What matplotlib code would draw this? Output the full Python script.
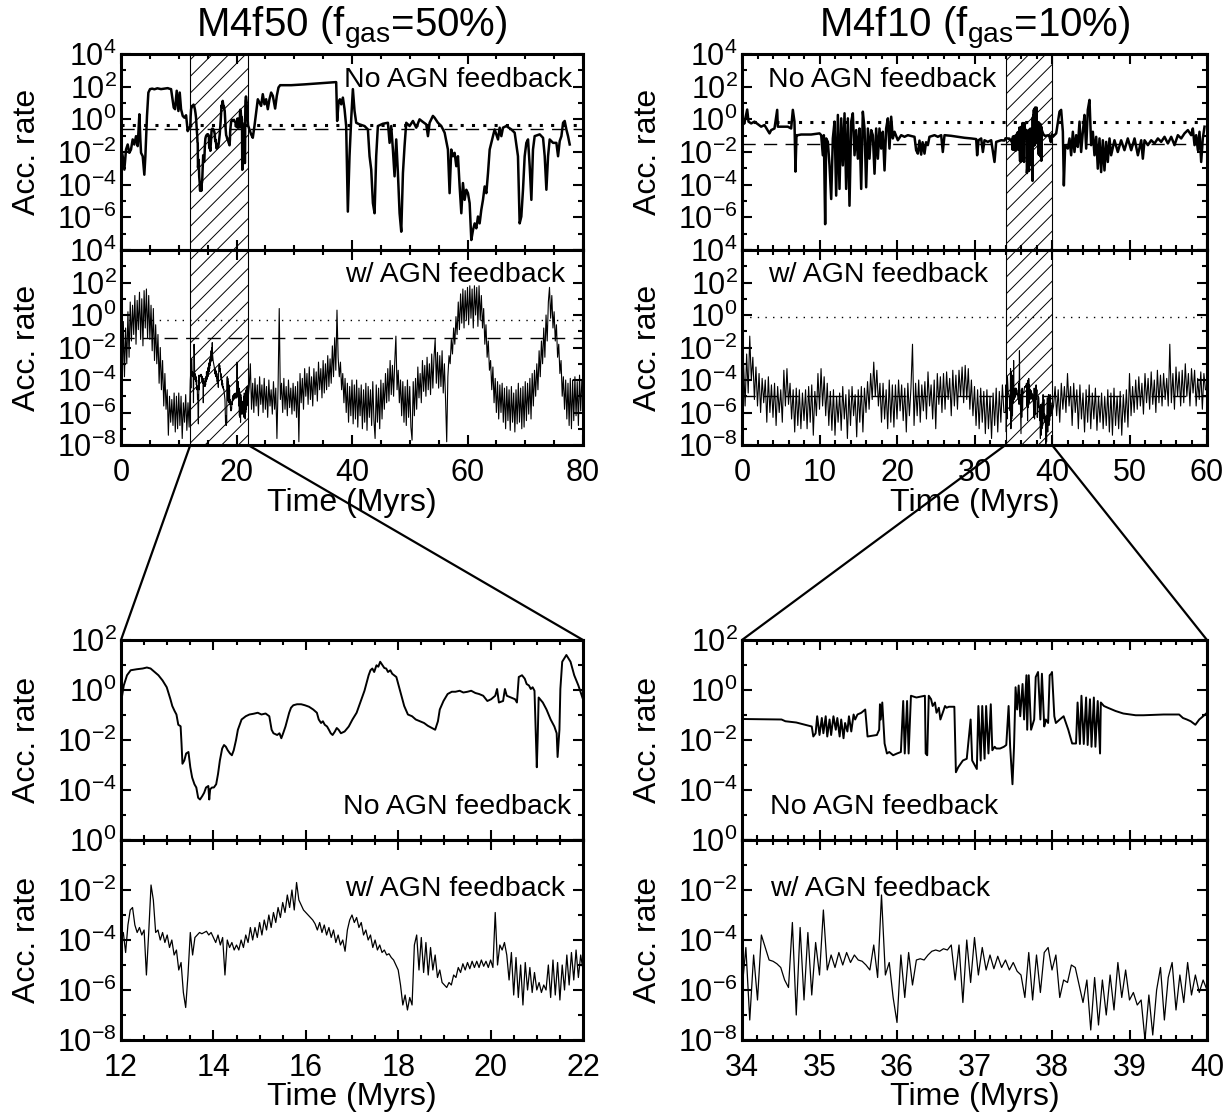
import numpy as np
import matplotlib
matplotlib.use("Agg")
import matplotlib.pyplot as plt
from matplotlib.patches import ConnectionPatch
from matplotlib.ticker import FixedLocator, FuncFormatter, MultipleLocator, NullFormatter

plt.rcParams["font.family"] = ["Liberation Sans", "DejaVu Sans"]
plt.rcParams["mathtext.fontset"] = "custom"
plt.rcParams["mathtext.rm"] = "Liberation Sans"
plt.rcParams["mathtext.it"] = "Liberation Sans:italic"
plt.rcParams["mathtext.bf"] = "Liberation Sans:bold"
plt.rcParams["hatch.linewidth"] = 0.7

# ---------------------------------------------------------------------------
# data: (time [Myr], log10 accretion rate)
# ---------------------------------------------------------------------------

# M4f50, no AGN feedback
f50_noagn = [
    (0.0, -1.64), (0.29, -2.26), (0.58, -3.08), (0.87, -1.85), (1.16, -1.54), (1.44, -2.05),
    (1.73, -1.85), (2.02, -1.23), (2.31, -1.54), (2.6, -1.03), (2.89, -1.64), (3.18, 0.31),
    (3.35, -1.23), (3.47, -2.05), (3.76, -2.26), (4.04, -3.39), (4.22, -2.26), (4.5, 0.2),
    (4.74, 1.64), (5.03, 1.85), (5.4, 1.88), (5.78, 1.84), (6.3, 1.9), (6.93, 1.85),
    (7.5, 1.88), (8.09, 1.91), (8.4, 1.87), (8.67, 1.85), (9.13, 0.72), (9.36, 0.62),
    (9.65, 1.75), (9.94, 0.51), (10.17, 1.64), (10.4, 0.62), (10.69, 0.21), (10.98, 0.1),
    (11.27, 0.25), (11.55, -0.72), (11.79, -0.51),
    # 12-22 Myr, from the zoomed panel
    (12.00, -0.50), (12.06, 0.18), (12.13, 0.59), (12.21, 0.79), (12.34, 0.83), (12.47, 0.86),
    (12.56, 0.90), (12.64, 0.86), (12.73, 0.72), (12.81, 0.59), (12.90, 0.38), (12.99, 0.11),
    (13.07, -0.37), (13.11, -0.64), (13.16, -0.84), (13.20, -0.98), (13.24, -1.39), (13.29, -1.45),
    (13.31, -2.14), (13.33, -2.95), (13.37, -2.82), (13.41, -2.54), (13.46, -2.48), (13.50, -3.09),
    (13.54, -3.50), (13.59, -3.77), (13.63, -3.90), (13.67, -4.31), (13.71, -4.38), (13.76, -4.24),
    (13.80, -4.11), (13.84, -3.90), (13.89, -3.84), (13.91, -4.38), (13.93, -3.97), (13.97, -3.90),
    (14.01, -3.90), (14.06, -3.77), (14.10, -3.36), (14.14, -2.82), (14.19, -2.34), (14.23, -2.20),
    (14.27, -2.27), (14.31, -2.41), (14.36, -2.54), (14.40, -2.61), (14.44, -2.41), (14.49, -2.00),
    (14.53, -1.59), (14.61, -1.18), (14.70, -1.05), (14.78, -0.98), (14.87, -0.95), (14.96, -0.91),
    (15.04, -0.98), (15.13, -0.94), (15.21, -1.05), (15.26, -1.59), (15.30, -1.73), (15.38, -1.80),
    (15.43, -1.73), (15.47, -1.93), (15.51, -1.73), (15.56, -1.46), (15.60, -1.18), (15.64, -0.91),
    (15.68, -0.71), (15.73, -0.61), (15.81, -0.57), (15.90, -0.57), (15.98, -0.61), (16.07, -0.67),
    (16.16, -0.78), (16.24, -0.91), (16.28, -1.18), (16.33, -1.32), (16.37, -1.25), (16.41, -1.39),
    (16.46, -1.46), (16.50, -1.59), (16.54, -1.73), (16.58, -1.80), (16.63, -1.66), (16.67, -1.52),
    (16.71, -1.59), (16.76, -1.73), (16.84, -1.66), (16.93, -1.46), (17.01, -1.18), (17.10, -0.91),
    (17.18, -0.50), (17.27, -0.03), (17.36, 0.59), (17.40, 0.79), (17.44, 0.86), (17.48, 0.72),
    (17.53, 0.99), (17.57, 0.93), (17.61, 1.13), (17.66, 0.99), (17.70, 0.88), (17.74, 0.86),
    (17.78, 0.72), (17.83, 0.79), (17.87, 0.65), (17.91, 0.59), (17.96, 0.52), (18.04, -0.03),
    (18.13, -0.64), (18.21, -0.98), (18.30, -1.05), (18.38, -1.18), (18.47, -1.25), (18.56, -1.32),
    (18.64, -1.43), (18.73, -1.52), (18.80, -1.59), (18.86, -1.25), (18.90, -0.78), (18.98, -0.44),
    (19.07, -0.16), (19.16, -0.07), (19.24, -0.07), (19.33, -0.03), (19.41, -0.10), (19.50, -0.07),
    (19.58, -0.03), (19.67, -0.12), (19.75, -0.16), (19.84, -0.23), (19.93, -0.44), (20.01, -0.37),
    (20.10, -0.23), (20.14, 0.04), (20.18, -0.50), (20.27, -0.44), (20.31, 0.04), (20.35, -0.23),
    (20.44, -0.30), (20.53, -0.37), (20.57, -0.50), (20.61, 0.52), (20.68, 0.59), (20.74, 0.45),
    (20.78, 0.24), (20.83, 0.18), (20.87, 0.04), (20.91, 0.11), (20.95, -0.03), (21.00, -3.09),
    (21.02, -1.86), (21.04, -0.30), (21.13, -0.50), (21.21, -0.78), (21.30, -1.18), (21.38, -1.46),
    (21.43, -1.73), (21.45, -2.68), (21.49, -1.59), (21.51, 0.04), (21.55, 1.13), (21.64, 1.40),
    (21.73, 1.13), (21.81, 0.59), (21.90, 0.18), (22.00, -0.37),
    # after the zoom window
    (22.24, -0.62), (22.53, -0.92), (22.82, -1.13), (23.11, -0.41), (23.4, 0.41), (23.69, 1.23),
    (23.97, 1.03), (24.26, 0.82), (24.55, 1.54), (24.84, 0.92), (25.13, 1.23), (25.42, 0.62),
    (25.71, 1.23), (26.0, 1.64), (26.29, 1.44), (26.69, 0.66), (26.98, 1.44), (27.27, 1.95),
    (27.56, 2.09), (29.46, 2.09), (31.77, 2.14), (34.08, 2.2), (36.4, 2.26), (37.26, 2.28),
    (37.43, -0.1), (37.67, 1.03), (37.9, 1.23), (38.13, 0.92), (38.42, 1.33), (38.71, 0.62),
    (38.99, -0.41), (39.28, -5.65), (39.57, -2.26), (39.86, 0.0), (40.15, 1.85), (40.44, 0.51),
    (40.73, -0.21), (41.31, -0.31), (42.17, -0.41), (42.75, -0.62), (43.04, -2.26), (43.33, -3.08),
    (43.62, -5.13), (43.91, -5.75), (44.19, -2.26), (44.48, -0.41), (45.35, -0.27), (46.22, -0.21),
    (46.51, -1.44), (46.79, -0.41), (47.08, -1.85), (47.37, -3.49), (47.66, -1.23), (47.95, -3.29),
    (48.24, -5.75), (48.53, -6.88), (48.82, -3.29), (49.1, -1.64), (49.39, -0.21), (49.97, -0.41),
    (50.55, -0.1), (51.13, -0.51), (51.7, 0.0), (52.28, -0.16), (52.86, -0.31), (53.15, -1.03),
    (53.44, -0.21), (54.01, 0.21), (54.3, 0.1), (54.88, -0.21), (55.46, -0.41), (56.04, -0.82),
    (56.61, -1.85), (56.9, -4.52), (57.19, -1.85), (57.48, -2.26), (57.77, -2.05), (58.06, -2.87),
    (58.35, -2.26), (58.64, -4.11), (58.93, -5.75), (59.21, -3.9), (59.5, -4.93), (59.79, -4.31),
    (60.08, -4.52), (60.37, -5.13), (60.66, -7.39), (60.95, -6.78), (61.24, -6.37), (61.53, -6.67),
    (61.81, -5.95), (62.1, -6.37), (62.39, -5.54), (62.68, -4.93), (62.97, -4.11), (63.26, -4.52),
    (63.55, -3.29), (63.84, -1.85), (64.12, -1.44), (64.41, -1.03), (64.7, -0.62), (65.28, -1.23),
    (65.57, -0.51), (65.86, -1.03), (66.15, -0.51), (66.72, -0.41), (67.59, -0.62), (68.17, -0.82),
    (68.74, -2.26), (69.03, -6.37), (69.32, -5.95), (69.61, -4.31), (69.9, -2.26), (70.19, -1.44),
    (70.48, -1.23), (70.77, -2.87), (71.06, -4.93), (71.34, -1.85), (71.63, -1.03), (72.5, -0.92),
    (73.08, -1.13), (73.37, -2.26), (73.66, -4.31), (73.95, -2.26), (74.23, -1.23), (74.81, -1.44),
    (75.39, -1.44), (75.68, -2.26), (75.97, -1.33), (76.26, -1.03), (76.55, -0.21), (76.83, -0.1),
    (77.12, -0.62), (77.41, -1.03), (77.7, -1.54),
]

# M4f50, with AGN feedback: three evenly sampled stretches
f50_agn_pre_start, f50_agn_pre_step = 0.0, 0.2
f50_agn_pre = [
    -1.2, -4.6, -0.4, -3.8, -0.8, -3.0, 0.2, -2.6, 0.8, -1.6,
    0.6, -1.2, 1.2, -1.8, 0.9, -0.9, 1.4, -1.5, 1.0, -1.9,
    1.5, -0.8, 1.6, -1.4, 1.2, -1.5, 0.6, -2.2, 0.4, -2.8,
    -0.6, -3.0, -1.2, -4.2, -2.0, -4.6, -2.8, -5.6, -3.6, -5.8,
    -4.6, -7.4, -5.0, -6.6, -5.2, -6.8, -4.8, -7.2, -5.0, -7.0,
    -4.8, -6.8, -5.0, -7.6, -5.4, -6.6, -4.9, -7.1, -5.4, -6.9,
]
f50_agn_zoom_start, f50_agn_zoom_step = 12.0, 0.05
f50_agn_zoom = [
    -4.0, -3.7, -4.5, -3.4, -2.8, -2.7, -3.4, -3.7, -3.5, -3.8,
    -3.6, -5.4, -3.7, -1.8, -2.4, -3.7, -3.6, -4.0, -3.7, -4.1,
    -3.8, -4.3, -4.0, -4.6, -4.4, -5.2, -4.9, -6.1, -6.7, -5.4,
    -3.7, -4.6, -3.9, -3.8, -3.7, -3.75, -3.7, -3.65, -3.8, -3.7,
    -3.9, -4.1, -3.8, -4.2, -3.9, -5.4, -4.0, -4.3, -4.1, -4.4,
    -4.2, -4.4, -4.0, -4.3, -3.8, -4.1, -3.5, -4.0, -3.5, -3.9,
    -3.3, -3.8, -3.2, -3.6, -3.0, -3.5, -2.9, -3.3, -2.7, -3.1,
    -2.5, -2.9, -2.2, -2.7, -2.0, -2.8, -1.7, -2.4, -2.6, -2.8,
    -2.9, -3.0, -3.1, -3.2, -3.35, -3.6, -3.3, -3.7, -3.4, -3.8,
    -3.5, -3.9, -3.6, -4.1, -3.8, -4.2, -4.0, -4.45, -3.6, -3.2,
    -3.0, -3.3, -3.1, -3.5, -3.3, -3.8, -3.6, -4.0, -3.8, -4.3,
    -4.0, -4.4, -4.2, -4.5, -4.4, -4.6, -4.55, -4.7, -4.8, -5.0,
    -5.2, -5.8, -6.6, -6.2, -6.8, -6.3, -6.6, -4.2, -3.8, -5.2,
    -3.9, -5.3, -4.1, -5.4, -4.3, -5.2, -4.6, -5.5, -5.2, -5.7,
    -5.8, -5.9, -5.7, -5.8, -5.4, -5.5, -5.1, -5.3, -4.95, -5.2,
    -4.9, -5.15, -4.85, -5.1, -4.85, -5.1, -4.8, -5.05, -4.85, -5.1,
    -4.8, -5.1, -2.9, -5.0, -4.2, -4.4, -4.1, -4.6, -5.6, -4.5,
    -6.2, -4.7, -6.3, -5.0, -6.6, -4.9, -6.0, -5.1, -6.1, -5.3,
    -6.0, -5.7, -6.1, -5.8, -6.0, -5.0, -6.3, -4.8, -6.2, -4.9,
    -6.4, -5.0, -6.0, -4.6, -5.8, -4.5, -5.6, -4.4, -5.5, -4.6,
    -5.2,
]
f50_agn_post_start, f50_agn_post_step = 22.2, 0.2
f50_agn_post = [
    -4.4, -3.0, -5.8, -4.2, -6.0, -3.9, -5.6, -4.3, -6.2, -3.8,
    -5.5, -4.3, -6.0, -3.9, -5.8, -4.4, -6.3, -4.0, -5.6, -4.6,
    -6.1, -4.1, -5.8, -4.5, -7.6, -4.4, 0.4, -5.2, -4.2, -6.0,
    -3.9, -5.8, -4.4, -6.2, -4.0, -5.7, -4.5, -6.1, -4.2, -5.9,
    -4.4, -6.3, -4.1, -7.8, -3.6, -5.4, -3.9, -5.8, -3.3, -5.0,
    -3.6, -5.5, -3.2, -5.2, -3.8, -5.6, -3.3, -4.9, -3.5, -5.3,
    -2.9, -4.6, -3.3, -5.1, -2.8, -4.8, -3.0, -4.6, -2.5, -4.4,
    -2.7, -4.2, -1.9, -3.8, -1.4, -3.4, 0.3, -2.6, -3.8, -2.9,
    -4.6, -3.6, -5.4, -3.9, -6.0, -4.2, -6.6, -4.4, -6.2, -4.0,
    -6.7, -4.3, -6.4, -4.0, -6.9, -4.5, -6.2, -4.3, -7.0, -4.6,
    -6.6, -4.2, -7.1, -4.4, -6.3, -4.6, -6.8, -4.1, -6.5, -7.6,
    -4.3, -6.6, -4.5, -7.0, -4.0, -6.4, -4.2, -5.8, -3.6, -5.4,
    -3.3, -5.3, -2.8, -4.9, -3.1, -5.0, -2.9, -1.3, -4.6, -3.4,
    -5.4, -4.0, -6.2, -4.1, -6.6, -4.4, -6.8, -4.0, -6.3, -4.4,
    -6.9, -7.7, -4.1, -6.2, -3.9, -5.8, -3.2, -5.1, -3.6, -5.4,
    -2.8, -4.7, -3.1, -5.0, -2.6, -4.6, -3.0, -4.9, -2.4, -4.5,
    -2.6, -1.5, -4.2, -2.3, -4.5, -2.5, -4.4, -2.2, -4.8, -3.0,
    -5.2, -7.8, -3.8, -2.5, -3.0, -1.5, -2.4, -0.8, -1.8, -0.1,
    -1.2, 0.8, -0.9, 1.3, -0.5, 1.6, -0.8, 1.5, -0.3, 1.7,
    -0.6, 1.8, -0.2, 1.6, -0.8, 1.8, 0.0, 1.7, -0.7, 1.8,
    -0.3, 1.2, -0.8, 0.4, -1.8, -0.6, -2.6, -1.6, -3.4, -2.8,
    -4.6, -3.2, -5.4, -3.9, -6.0, -4.1, -6.4, -4.3, -6.0, -4.2,
    -6.6, -4.5, -7.0, -4.4, -6.5, -4.6, -7.1, -4.4, -6.6, -4.8,
    -7.2, -4.6, -6.7, -4.2, -6.6, -4.5, -7.0, -4.4, -6.9, -4.1,
    -6.5, -4.2, -6.1, -3.9, -6.4, -3.6, -5.6, -3.4, -5.0, -3.0,
    -4.6, -2.2, -3.8, -1.6, -3.0, -0.8, -2.6, 0.0, -1.6, 0.8,
    1.7, -0.2, 1.2, -0.8, 0.2, -1.6, -0.6, -2.6, -1.8, -3.6,
    -2.8, -5.0, -3.8, -5.8, -4.0, -6.4, -4.2, -6.8, -3.9, -7.0,
    -4.0, -6.5, -3.8, -6.2, -4.1, -6.8, -3.7, -5.9, -4.0,
]

# M4f10, no AGN feedback
f10_noagn = [
    (0.0, -0.35), (0.3, -0.25), (0.67, 0.6), (0.84, -0.14), (1.18, -0.25), (1.61, -0.14),
    (2.47, -0.45), (2.9, -0.35), (3.55, -0.86), (3.76, -0.66), (4.19, -0.56), (4.54, 0.58),
    (4.62, -0.45), (5.27, -0.45), (5.91, -0.45), (6.34, -0.56), (6.56, 0.58), (6.77, -0.14),
    (6.9, -3.2), (7.03, -0.97), (7.2, -0.97), (7.63, -0.93), (8.92, -0.93), (10.0, -0.86),
    (10.22, -0.97), (10.43, -2.2), (10.56, -0.97), (10.73, -6.42), (10.86, -1.17), (11.08, -1.38),
    (11.29, -2.82), (11.51, -4.88), (11.72, -1.17), (11.94, -0.14), (12.15, -4.67), (12.37, 0.27),
    (12.58, -4.26), (12.8, 0.06), (13.01, -2.82), (13.23, 0.37), (13.44, -4.26), (13.66, 0.06),
    (13.87, -5.29), (14.09, -0.14), (14.3, 0.37), (14.52, -2.2), (14.73, -0.66), (14.95, -2.41),
    (15.16, -0.56), (15.38, -4.26), (15.59, 0.47), (15.81, -0.56), (16.02, -4.16), (16.24, -0.56),
    (16.45, -2.41), (16.67, -0.66), (16.88, -0.97), (17.1, -3.33), (17.31, -0.56), (17.53, -2.41),
    (17.74, -0.56), (17.96, -1.79), (18.17, -0.76), (18.39, -3.13), (18.6, -0.56), (18.82, 0.06),
    (19.03, -1.79), (19.25, 0.16), (19.46, -1.17), (19.68, -0.76), (20.11, -1.28), (20.54, -0.97),
    (20.97, -1.07), (21.4, -0.97), (22.26, -1.07), (22.47, -1.89), (22.69, -2.1), (22.9, -1.3),
    (23.12, -2.16), (23.3, -1.4), (23.55, -2.1), (23.75, -1.4), (23.98, -1.58), (24.19, -1.07),
    (24.84, -0.97), (25.27, -1.07), (25.7, -0.97), (25.91, -2.0), (26.13, -0.97), (26.99, -1.01),
    (27.85, -1.07), (28.71, -1.13), (29.57, -1.17), (30.22, -1.21), (30.34, -2.2), (30.52, -1.28),
    (30.86, -1.17), (31.08, -2.0), (31.29, -1.28), (31.72, -1.38), (32.15, -1.28), (32.58, -2.61),
    (32.8, -1.38), (33.44, -1.28), (33.87, -1.3),
    # 34-40 Myr, from the zoomed panel
    (34.0, -1.16), (34.51, -1.18), (34.56, -1.25), (34.7, -1.3), (34.9, -1.46), (34.92, -1.86),
    (34.95, -1.73), (34.97, -1.05), (35.0, -1.8), (35.03, -1.12), (35.05, -1.73), (35.08, -1.05),
    (35.1, -1.86), (35.13, -1.18), (35.15, -1.8), (35.18, -1.05), (35.21, -1.59), (35.23, -1.12),
    (35.26, -1.86), (35.28, -1.18), (35.31, -1.93), (35.33, -1.32), (35.36, -1.66), (35.38, -1.05),
    (35.41, -1.66), (35.44, -0.98), (35.46, -1.18), (35.49, -0.98), (35.54, -0.91), (35.59, -0.78),
    (35.62, -1.86), (35.74, -1.8), (35.77, -1.59), (35.78, -0.57), (35.79, -1.18), (35.81, -0.5),
    (35.84, -2.14), (35.87, -2.54), (35.9, -2.48), (35.95, -2.61), (36.0, -2.54), (36.05, -2.48),
    (36.08, -0.44), (36.1, -2.54), (36.13, -0.44), (36.15, -2.54), (36.18, -0.23), (36.25, -0.3),
    (36.36, -0.23), (36.37, -2.54), (36.39, -2.61), (36.41, -0.23), (36.44, -0.37), (36.46, -0.64),
    (36.49, -0.5), (36.51, -0.91), (36.54, -0.71), (36.56, -1.18), (36.59, -0.91), (36.62, -0.64),
    (36.64, -0.71), (36.67, -0.67), (36.74, -0.67), (36.76, -3.29), (36.79, -3.09), (36.85, -2.82),
    (36.9, -2.75), (36.95, -1.18), (36.97, -2.82), (37.03, -3.16), (37.05, -0.64), (37.08, -2.82),
    (37.1, -0.64), (37.13, -2.75), (37.15, -0.64), (37.18, -2.54), (37.21, -0.57), (37.23, -2.41),
    (37.26, -2.27), (37.28, -2.34), (37.33, -2.34), (37.38, -2.27), (37.41, -2.2), (37.44, -0.64),
    (37.46, -2.27), (37.49, -3.77), (37.51, -2.27), (37.53, 0.11), (37.55, -0.78), (37.57, 0.18),
    (37.59, -1.05), (37.62, 0.24), (37.64, -1.18), (37.67, 0.59), (37.68, -1.59), (37.7, 0.59),
    (37.73, -1.59), (37.77, -1.18), (37.79, 0.52), (37.82, 0.72), (37.85, -1.18), (37.87, 0.65),
    (37.9, -1.46), (37.92, -1.18), (37.95, -1.32), (37.97, 0.59), (37.99, 0.65), (38.0, 0.72),
    (38.03, -1.05), (38.05, -1.32), (38.1, -1.18), (38.15, -1.05), (38.21, -1.59), (38.26, -2.14),
    (38.31, -2.14), (38.33, -0.5), (38.36, -2.16), (38.38, -0.23), (38.41, -2.16), (38.44, -0.3),
    (38.46, -2.2), (38.49, -0.37), (38.51, -2.27), (38.54, -0.3), (38.56, -2.27), (38.59, -0.44),
    (38.62, -2.54), (38.63, -0.5), (38.67, -0.64), (38.72, -0.71), (38.82, -0.84), (38.92, -0.94),
    (39.08, -1.01), (39.18, -1.01), (39.44, -0.98), (39.64, -0.98), (39.69, -1.12), (39.74, -1.18),
    (39.79, -1.25), (39.85, -1.39), (39.9, -1.18), (39.95, -1.05), (40.0, -0.91),
    # after the zoom window
    (40.11, -1.07), (40.54, -0.86), (40.97, 0.47), (41.18, 0.58), (41.4, -0.76), (41.53, -4.05),
    (41.7, -1.58), (42.04, -1.79), (42.26, -1.17), (42.47, -2.2), (42.69, -0.76), (42.9, -2.0),
    (43.12, -0.97), (43.33, -1.69), (43.55, -0.14), (43.76, -2.0), (43.98, -0.76), (44.19, 0.27),
    (44.41, -1.79), (44.62, 0.58), (44.84, 1.19), (45.05, -1.58), (45.27, -0.76), (45.48, -2.2),
    (45.7, -1.07), (45.91, -3.02), (46.13, -1.17), (46.34, -3.23), (46.56, -1.28), (46.77, -3.13),
    (46.99, -1.38), (47.2, -2.61), (47.42, -1.17), (47.63, -2.2), (48.06, -1.28), (48.49, -2.0),
    (48.92, -1.28), (49.35, -1.89), (49.78, -1.17), (50.22, -1.89), (50.65, -1.17), (51.08, -2.2),
    (51.51, -1.28), (51.72, -2.41), (51.94, -1.28), (52.37, -1.58), (52.8, -1.28), (53.23, -1.48),
    (53.66, -1.17), (54.09, -1.38), (54.52, -1.07), (54.95, -1.48), (55.38, -1.07), (55.81, -1.58),
    (56.24, -0.97), (56.67, -1.17), (57.1, -0.86), (57.53, -0.66), (57.96, -0.97), (58.17, -0.56),
    (58.39, -1.58), (58.6, -0.97), (58.82, -1.89), (59.03, -0.76), (59.25, -2.61), (59.46, -1.17),
    (59.68, -0.45),
]

# M4f10, with AGN feedback: three evenly sampled stretches
f10_agn_pre_start, f10_agn_pre_step = 0.0, 0.2
f10_agn_pre = [
    -5.0, -3.0, -5.6, -2.4, -4.8, -1.3, -4.0, -2.6, -5.2, -3.2,
    -5.6, -3.6, -6.0, -3.9, -5.4, -4.0, -6.6, -3.8, -6.0, -4.3,
    -6.3, -4.2, -6.8, -4.4, -6.0, -4.6, -6.6, -3.4, -5.6, -3.3,
    -5.5, -4.2, -6.4, -4.6, -7.2, -4.5, -6.8, -4.6, -7.0, -4.8,
    -6.5, -4.6, -7.0, -4.4, -6.6, -4.3, -7.4, -4.7, -6.2, -3.6,
    -5.8, -3.3, -5.6, -3.8, -6.2, -4.2, -6.8, -4.7, -7.1, -4.6,
    -7.4, -5.0, -6.6, -4.8, -7.1, -4.4, -6.4, -4.9, -7.6, -4.6,
    -6.8, -4.4, -6.2, -4.9, -7.5, -4.6, -6.6, -4.4, -7.2, -4.5,
    -6.0, -4.1, -5.8, -3.6, -5.2, -2.9, -5.0, -3.4, -5.6, -4.2,
    -6.6, -4.2, -6.4, -4.6, -7.0, -4.0, -6.6, -4.3, -6.9, -4.3,
    -6.4, -4.0, -5.9, -4.3, -6.5, -4.5, -7.2, -4.2, -6.2, -4.5,
    -1.8, -6.8, -4.2, -6.2, -4.0, -6.6, -4.3, -5.9, -4.1, -6.4,
    -3.5, -5.6, -4.3, -6.4, -4.0, -7.0, -3.6, -5.5, -3.8, -6.0,
    -3.6, -5.8, -3.5, -5.2, -3.9, -6.2, -3.4, -5.6, -3.7, -5.8,
    -3.4, -5.0, -3.2, -5.4, -3.1, -5.2, -3.3, -5.8, -4.0, -6.2,
    -4.4, -6.8, -4.6, -7.0, -4.5, -6.6, -4.7, -7.3, -4.6, -7.0,
    -5.0, -7.6, -4.8, -6.8, -4.5, -7.2, -4.7, -6.6, -4.3, -6.0,
]
f10_agn_zoom_start, f10_agn_zoom_step = 34.0, 0.05
f10_agn_zoom = [
    -6.0, -4.3, -7.2, -4.6, -6.4, -3.8, -4.3, -4.8, -4.85, -4.95,
    -5.1, -5.6, -5.9, -3.3, -7.0, -3.5, -6.4, -3.7, -6.2, -4.1,
    -5.4, -2.8, -5.2, -4.6, -5.1, -4.5, -5.0, -4.5, -4.9, -4.6,
    -4.8, -4.85, -5.0, -5.2, -4.2, -5.5, -2.2, -5.4, -4.9, -6.3,
    -7.3, -4.6, -6.3, -4.5, -5.8, -4.8, -4.75, -4.8, -4.6, -4.45,
    -4.4, -4.45, -4.35, -4.4, -4.2, -5.6, -4.2, -6.5, -4.0, -5.7,
    -3.9, -5.4, -4.3, -5.2, -4.6, -5.15, -4.65, -5.1, -4.8, -5.2,
    -4.9, -5.25, -5.4, -6.3, -4.5, -6.4, -4.6, -6.1, -4.5, -4.3,
    -5.2, -4.6, -6.3, -5.6, -5.7, -5.0, -5.1, -5.8, -6.5, -5.6,
    -7.6, -5.5, -7.4, -5.6, -7.0, -5.4, -6.8, -4.9, -6.3, -5.2,
    -6.4, -6.1, -6.6, -6.4, -8.0, -6.2, -7.8, -6.0, -5.1, -7.2,
    -5.5, -4.9, -6.8, -5.4, -6.5, -4.9, -6.2, -5.4, -6.1, -5.6,
    -6.0,
]
f10_agn_post_start, f10_agn_post_step = 40.2, 0.2
f10_agn_post = [
    -5.6, -4.4, -6.2, -4.6, -6.6, -4.2, -5.8, -4.4, -6.0, -3.6,
    -5.6, -4.4, -6.8, -4.2, -6.0, -4.6, -7.0, -4.3, -6.4, -4.8,
    -7.2, -4.6, -6.6, -4.3, -7.0, -4.8, -6.4, -4.5, -7.1, -5.0,
    -6.6, -4.8, -7.0, -5.0, -6.8, -4.6, -7.2, -4.8, -7.4, -4.5,
    -6.8, -5.0, -7.0, -4.7, -7.4, -4.9, -6.6, -4.6, -6.9, -3.6,
    -6.2, -4.4, -6.0, -4.0, -5.8, -3.8, -5.6, -4.2, -6.1, -3.6,
    -5.4, -3.9, -5.8, -3.5, -5.5, -4.0, -6.0, -3.4, -5.4, -3.7,
    -5.6, -3.6, -5.2, -3.9, -5.6, -1.8, -5.4, -3.6, -5.8, -3.2,
    -5.0, -3.5, -5.6, -3.4, -5.4, -3.0, -5.0, -3.6, -5.6, -3.3,
    -4.8, -3.4, -5.6, -3.9, -5.2, -3.5, -5.8, -3.6, -4.6,
]

# reference rates (dotted / dashed lines)
f50_dot_up, f50_dash_up = 0.45, 0.27
f50_dot_lo, f50_dash_lo = 0.50, 0.037
f10_dot_up, f10_dash_up = 0.72, 0.033
f10_dot_lo, f10_dash_lo = 0.75, 1.05e-5

zoom_f50 = (12, 22)
zoom_f10 = (34, 40)


def stitch(*parts):
    ts, vs = [], []
    for start, step, vals in parts:
        ts.append(start + step * np.arange(len(vals)))
        vs.append(np.asarray(vals, dtype=float))
    return np.concatenate(ts), 10.0 ** np.concatenate(vs)


def pairs(rows):
    arr = np.asarray(rows, dtype=float)
    return arr[:, 0], 10.0 ** arr[:, 1]


t_a, y_a = pairs(f50_noagn)
t_b, y_b = stitch((f50_agn_pre_start, f50_agn_pre_step, f50_agn_pre),
                  (f50_agn_zoom_start, f50_agn_zoom_step, f50_agn_zoom),
                  (f50_agn_post_start, f50_agn_post_step, f50_agn_post))
t_c, y_c = pairs(f10_noagn)
t_d, y_d = stitch((f10_agn_pre_start, f10_agn_pre_step, f10_agn_pre),
                  (f10_agn_zoom_start, f10_agn_zoom_step, f10_agn_zoom),
                  (f10_agn_post_start, f10_agn_post_step, f10_agn_post))

# ---------------------------------------------------------------------------
W, H = 1228.0, 1112.0
fig = plt.figure(figsize=(W / 100, H / 100), dpi=100)


def box(x0, x1, y0, y1):
    return [x0 / W, 1 - y1 / H, (x1 - x0) / W, (y1 - y0) / H]


def setup(ax, xlim, xmaj, xmin, elo, ehi, labels, show_x):
    ax.set_yscale("log")
    ax.set_xlim(*xlim)
    ax.set_ylim(10.0 ** elo, 10.0 ** ehi)
    ax.yaxis.set_major_locator(FixedLocator([10.0 ** e for e in range(elo, ehi + 1) if e % 2 == 0]))
    ax.yaxis.set_minor_locator(FixedLocator([10.0 ** e for e in range(elo, ehi + 1) if e % 2]))

    def fmt(v, _):
        e = int(round(np.log10(v)))
        return r"$\mathregular{10^{%d}}$" % e if e in labels else ""

    ax.yaxis.set_major_formatter(FuncFormatter(fmt))
    ax.yaxis.set_minor_formatter(NullFormatter())
    ax.xaxis.set_major_locator(MultipleLocator(xmaj))
    ax.xaxis.set_minor_locator(MultipleLocator(xmin))
    ax.tick_params(which="both", direction="in", top=True, right=True, width=1.5)
    ax.tick_params(which="major", length=7)
    ax.tick_params(which="minor", length=3.5)
    ax.tick_params(axis="y", labelsize=22, pad=3)
    ax.tick_params(axis="x", labelsize=22, pad=9, labelbottom=show_x)
    for s in ax.spines.values():
        s.set_linewidth(2.2)
    ax.set_ylabel("Acc. rate", fontsize=23)
    ax.yaxis.set_label_coords(-0.17, 0.5)
    if show_x:
        ax.set_xlabel("Time (Myrs)", fontsize=23, labelpad=0)


ax_tl_up = fig.add_axes(box(121, 583, 54, 250))
ax_tl_lo = fig.add_axes(box(121, 583, 250, 445))
ax_tr_up = fig.add_axes(box(742, 1207, 54, 250))
ax_tr_lo = fig.add_axes(box(742, 1207, 250, 445))
ax_bl_up = fig.add_axes(box(121, 583, 640, 840))
ax_bl_lo = fig.add_axes(box(121, 583, 840, 1040))
ax_br_up = fig.add_axes(box(742, 1207, 640, 840))
ax_br_lo = fig.add_axes(box(742, 1207, 840, 1040))

top_lab_up = [4, 2, 0, -2, -4, -6]
top_lab_lo = [4, 2, 0, -2, -4, -6, -8]
setup(ax_tl_up, (0, 80), 20, 5, -8, 4, top_lab_up, False)
setup(ax_tl_lo, (0, 80), 20, 5, -8, 4, top_lab_lo, True)
setup(ax_tr_up, (0, 60), 10, 2, -8, 4, top_lab_up, False)
setup(ax_tr_lo, (0, 60), 10, 2, -8, 4, top_lab_lo, True)
setup(ax_bl_up, zoom_f50, 2, 0.5, -6, 2, [2, 0, -2, -4], False)
setup(ax_bl_lo, zoom_f50, 2, 0.5, -8, 0, [0, -2, -4, -6, -8], True)
setup(ax_br_up, zoom_f10, 1, 0.2, -6, 2, [2, 0, -2, -4], False)
setup(ax_br_lo, zoom_f10, 1, 0.2, -8, 0, [0, -2, -4, -6, -8], True)

# hatched zoom windows
for ax, win in [(ax_tl_up, zoom_f50), (ax_tl_lo, zoom_f50), (ax_tr_up, zoom_f10), (ax_tr_lo, zoom_f10)]:
    ax.axvspan(*win, facecolor="none", edgecolor="black", hatch="//", lw=0.8, zorder=1)

dot_thick = dict(color="black", lw=2.2, ls=(0, (1, 2.7)), zorder=1.5)
dot_thin = dict(color="black", lw=1.0, ls=(0, (1, 4.5)), zorder=1.5)
dash = dict(color="black", lw=1.0, ls=(0, (9.5, 6)), zorder=1.5)

ax_tl_up.axhline(f50_dot_up, **dot_thick)
ax_tl_up.axhline(f50_dash_up, **dash)
ax_tl_lo.axhline(f50_dot_lo, **dot_thin)
ax_tl_lo.axhline(f50_dash_lo, **dash)
ax_tr_up.axhline(f10_dot_up, **dot_thick)
ax_tr_up.axhline(f10_dash_up, **dash)
ax_tr_lo.axhline(f10_dot_lo, **dot_thin)
ax_tr_lo.axhline(f10_dash_lo, **dash)

ax_tl_up.plot(t_a, y_a, color="black", lw=1.8, zorder=2)
ax_tl_lo.plot(t_b, y_b, color="black", lw=0.8, zorder=2)
ax_tr_up.plot(t_c, y_c, color="black", lw=1.8, zorder=2)
ax_tr_lo.plot(t_d, y_d, color="black", lw=0.8, zorder=2)
ax_bl_up.plot(t_a, y_a, color="black", lw=1.4, zorder=2)
ax_bl_lo.plot(t_b, y_b, color="black", lw=0.9, zorder=2)
ax_br_up.plot(t_c, y_c, color="black", lw=1.4, zorder=2)
ax_br_lo.plot(t_d, y_d, color="black", lw=0.9, zorder=2)

# labels inside the panels
txt = dict(fontsize=20.5, va="baseline")
ax_tl_up.text(0.976, 0.832, "No AGN feedback", ha="right", transform=ax_tl_up.transAxes, **txt)
ax_tl_lo.text(0.961, 0.836, "w/ AGN feedback", ha="right", transform=ax_tl_lo.transAxes, **txt)
ax_tr_up.text(0.056, 0.832, "No AGN feedback", ha="left", transform=ax_tr_up.transAxes, **txt)
ax_tr_lo.text(0.056, 0.836, "w/ AGN feedback", ha="left", transform=ax_tr_lo.transAxes, **txt)
ax_bl_up.text(0.975, 0.13, "No AGN feedback", ha="right", transform=ax_bl_up.transAxes, **txt)
ax_bl_lo.text(0.961, 0.72, "w/ AGN feedback", ha="right", transform=ax_bl_lo.transAxes, **txt)
ax_br_up.text(0.06, 0.13, "No AGN feedback", ha="left", transform=ax_br_up.transAxes, **txt)
ax_br_lo.text(0.06, 0.72, "w/ AGN feedback", ha="left", transform=ax_br_lo.transAxes, **txt)

fig.text(0.2866, 1 - 37 / H, r"M4f50 (f$_{\mathregular{gas}}$=50%)", ha="center", va="baseline", fontsize=29)
fig.text(0.7936, 1 - 37 / H, r"M4f10 (f$_{\mathregular{gas}}$=10%)", ha="center", va="baseline", fontsize=29)

# lines from the hatched windows down to the zoomed panels
for src, dst, win in [(ax_tl_lo, ax_bl_up, zoom_f50), (ax_tr_lo, ax_br_up, zoom_f10)]:
    lo = src.get_ylim()[0]
    for xa, xb in [(win[0], 0.0), (win[1], 1.0)]:
        con = ConnectionPatch(xyA=(xa, lo), coordsA=src.transData,
                              xyB=(xb, 1.0), coordsB=dst.transAxes,
                              color="black", lw=1.6, zorder=10)
        fig.add_artist(con)

fig.savefig("out.png", dpi=100)
